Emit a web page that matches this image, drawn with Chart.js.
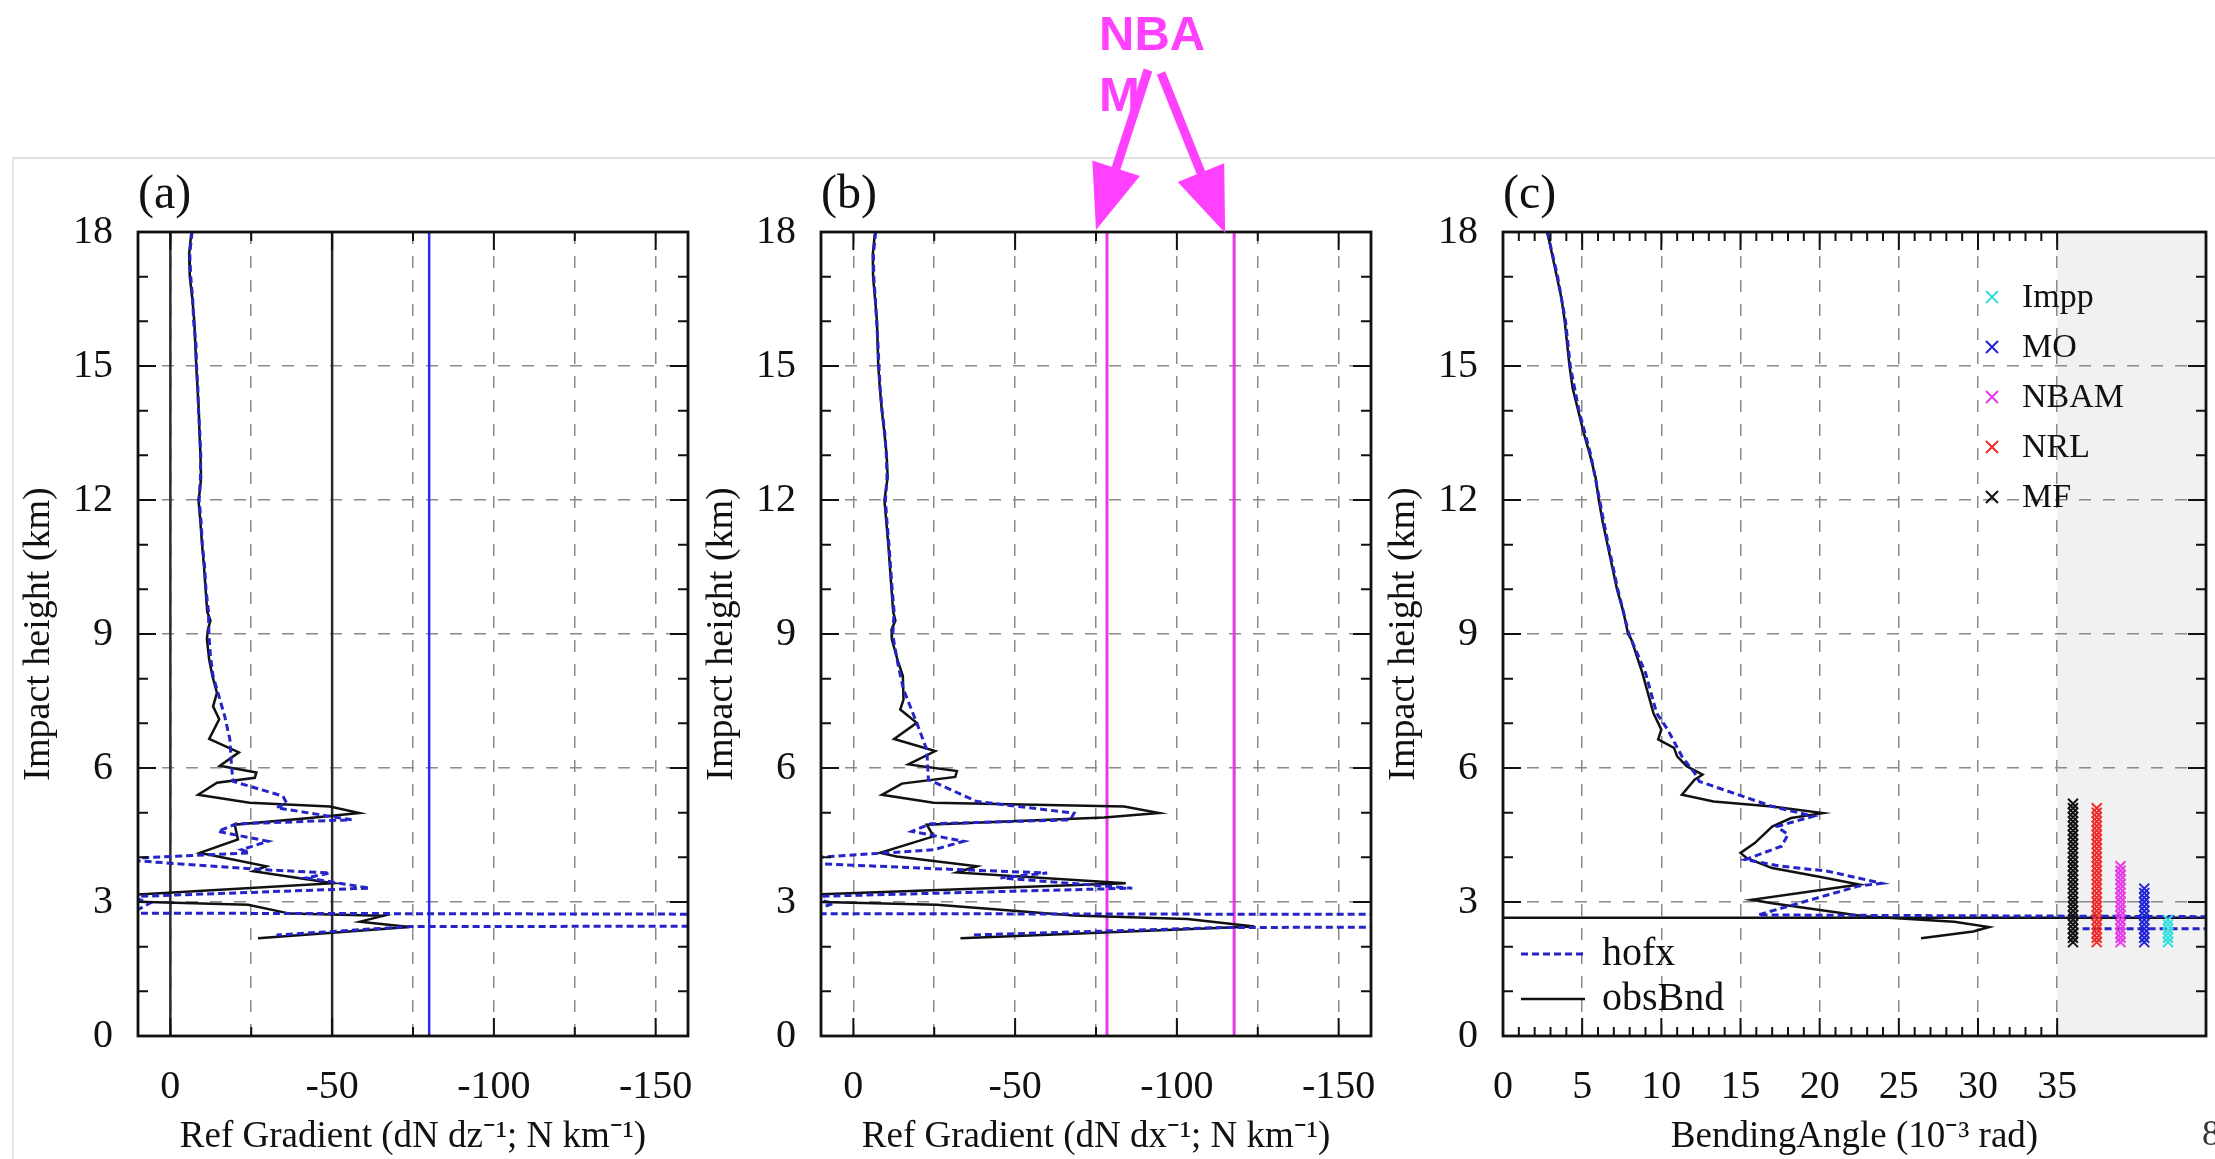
<!DOCTYPE html>
<html>
<head>
<meta charset="utf-8">
<script src="https://cdn.jsdelivr.net/npm/chart.js@4.4.1/dist/chart.umd.min.js"></script>
<style>
  html, body { margin: 0; padding: 0; background: #fff; width: 2215px; height: 1159px; overflow: hidden; }
  canvas { position: absolute; top: 0; }
  #frameTop { position: absolute; left: 12px; top: 157px; width: 2203px; border-top: 2px solid #dedede; }
  #frameLeft { position: absolute; left: 12px; top: 157px; height: 1002px; border-left: 2px solid #e4e4e4; }
  #pageNo { position: absolute; left: 2202px; top: 1112px; font: 36px "Liberation Serif", serif; color: #333; }
</style>
</head>
<body>
<div id="frameTop"></div>
<div id="frameLeft"></div>
<canvas id="panelA" width="700" height="1159" style="left:0px"></canvas>
<canvas id="panelB" width="700" height="1159" style="left:683px"></canvas>
<canvas id="panelC" width="850" height="1159" style="left:1365px"></canvas>
<div id="pageNo">8</div>
<script>
// ---- axis ticks ----
const heightTicks = [0, 3, 6, 9, 12, 15, 18];
const gradGrid = [0, -25, -50, -75, -100, -125, -150];
const gradLabels = [0, -50, -100, -150];
const bendTicks = [0, 5, 10, 15, 20, 25, 30, 35];

// ---- panel (a): dN/dz, impact height (km) vs value ----
const aObsH = [18.0, 17.5, 17.0, 16.5, 16.0, 15.5, 15.0, 14.5, 14.0, 13.5, 13.0, 12.5, 12.2, 12.0, 11.5, 11.0, 10.5, 10.0, 9.5, 9.3, 9.1, 8.88,
  8.43, 8.06, 7.68, 7.38, 7.09, 6.65, 6.35, 6.05, 5.90, 5.78, 5.67, 5.40, 5.22, 5.14, 4.99, 4.88, 4.73, 4.40, 4.10, 4.04,
  3.80, 3.69, 3.42, 3.16, 3.01, 2.94, 2.74, 2.69, 2.56, 2.44, 2.19];
const aObsV = [-6.5, -5.8, -6.0, -6.8, -7.4, -7.7, -8.0, -8.4, -8.8, -9.0, -9.3, -9.5, -9.1, -8.7, -9.3, -9.8, -10.4, -10.9, -11.4, -12.4, -11.6, -11.3,
  -12.0, -13.0, -14.4, -13.2, -15.1, -12.0, -21.2, -15.3, -26.6, -26.1, -14.4, -8.6, -24.5, -49.3, -58.4, -43.1, -19.9, -20.9, -9.1, -13.2,
  -29.7, -25.6, -50.3, 12, 12, -24.0, -36.9, -65.8, -58.6, -74.0, -27.1];
const aHofxH = [18.0, 17.5, 17.0, 16.5, 16.0, 15.5, 15.0, 14.5, 14.0, 13.5, 13.0, 12.5, 12.0, 11.5, 11.0, 10.5, 10.0, 9.5, 9.0, 8.5,
  8.06, 7.76, 7.16, 6.64, 6.04, 5.70, 5.37, 5.22, 5.11, 4.84, 4.75, 4.58, 4.36, 4.17, 4.10, 3.98, 3.93,
  3.72, 3.65, 3.54, 3.31, 3.12, 2.97, 2.75, 2.71, 2.47, 2.45, 2.26];
const aHofxV = [-6.7, -6.0, -6.3, -6.9, -7.2, -7.9, -8.1, -8.5, -8.7, -9.1, -9.4, -9.3, -8.9, -9.5, -9.9, -10.6, -11.0, -11.8, -11.9, -12.4,
  -13.2, -14.4, -16.8, -18.4, -18.9, -19.4, -34.8, -35.9, -32.8, -56.0, -20.4, -14.7, -30.2, -22.0, -24.5, 12, 12,
  -29.7, -49.3, -42.1, -61.6, 12, 6.4, 12, -300, -300, -74.0, -32.8];
const aRefLines = [0, -50];
const aLimit = -80;

// ---- panel (b): dN/dx ----
const bObsH = [18.0, 17.5, 17.0, 16.5, 16.0, 15.5, 15.0, 14.5, 14.0, 13.5, 13.0, 12.5, 12.0, 11.5, 11.0, 10.5, 10.0, 9.5, 9.3, 9.1, 8.88,
  8.43, 8.06, 7.53, 7.31, 7.01, 6.65, 6.38, 6.08, 5.93, 5.80, 5.65, 5.40, 5.22, 5.14, 4.99, 4.89, 4.73, 4.47, 4.10, 4.02,
  3.80, 3.66, 3.42, 3.16, 3.01, 2.94, 2.70, 2.62, 2.45, 2.19];
const bObsV = [-6.7, -6.0, -6.1, -6.7, -7.3, -7.5, -7.7, -8.2, -8.8, -9.6, -10.3, -10.6, -9.6, -10.2, -10.8, -11.3, -11.8, -12.3, -13.0, -11.8, -11.9,
  -13.6, -15.3, -15.5, -14.5, -19.6, -12.6, -25.3, -17.0, -32.0, -31.5, -15.0, -8.8, -24.8, -83.7, -94.5, -77.5, -22.7, -24.8, -8.3, -13.4,
  -38.2, -32.0, -84.2, 15, 15, -25.8, -68.2, -103.3, -124.0, -33.1];
const bHofxH = [18.0, 17.5, 17.0, 16.5, 16.0, 15.5, 15.0, 14.5, 14.0, 13.5, 13.0, 12.5, 12.0, 11.5, 11.0, 10.5, 10.0, 9.5, 9.0, 8.88,
  8.28, 7.76, 7.01, 6.41, 5.74, 5.25, 4.99, 4.84, 4.75, 4.58, 4.36, 4.17, 3.98, 3.87,
  3.72, 3.65, 3.54, 3.31, 3.12, 2.97, 2.74, 2.71, 2.45, 2.43, 2.26];
const bHofxV = [-6.9, -6.2, -6.3, -6.8, -7.2, -7.6, -7.9, -8.3, -8.9, -9.7, -10.2, -10.4, -9.9, -10.4, -11.0, -11.5, -12.0, -12.6, -12.2, -12.4,
  -13.9, -15.5, -19.6, -22.7, -23.2, -38.2, -68.2, -67.1, -23.8, -18.1, -34.1, -24.8, 15, 15,
  -34.1, -59.9, -45.5, -86.2, 15, 6.2, 15, -300, -300, -115.0, -36.0];
const bLimits = [-78.4, -117.7];

// ---- panel (c): bending angle (1e-3 rad) ----
const cObsH = [18.0, 17.0, 16.5, 16.0, 15.0, 14.5, 14.0, 13.5, 13.0, 12.5, 12.0, 11.5, 11.0, 10.5, 10.0, 9.5, 9.0, 8.88,
  8.13, 7.23, 6.86, 6.64, 6.45, 6.26, 6.04, 5.85, 5.74, 5.40, 5.25, 5.14, 4.99, 4.88, 4.69, 4.32, 4.10, 3.98,
  3.76, 3.57, 3.39, 3.05, 2.97, 2.68, 2.56, 2.44, 2.34, 2.19];
const cObsV = [2.8, 3.4, 3.7, 3.9, 4.2, 4.4, 4.75, 5.1, 5.5, 5.85, 6.05, 6.3, 6.6, 6.9, 7.2, 7.6, 7.9, 8.1,
  8.8, 9.5, 10.0, 9.8, 10.8, 11.0, 11.6, 12.6, 12.1, 11.3, 13.3, 17.0, 20.2, 18.2, 17.0, 15.9, 15.0, 15.4,
  17.0, 19.9, 22.5, 15.7, 17.0, 22.8, 28.5, 30.7, 29.7, 26.4];
const cHofxH = [18.0, 17.0, 16.0, 15.0, 14.0, 13.0, 12.0, 11.0, 10.0, 9.0, 8.88, 8.13, 7.23, 6.86, 6.26, 5.89, 5.70,
  5.14, 4.92, 4.69, 4.51, 4.25, 3.95, 3.80, 3.69, 3.42, 3.36, 2.71, 2.65, 2.40, 2.40];
const cHofxV = [2.8, 3.45, 3.95, 4.25, 4.8, 5.55, 6.1, 6.65, 7.25, 7.95, 8.1, 9.0, 9.7, 10.4, 11.3, 12.1, 12.4,
  17.0, 19.6, 17.3, 18.0, 17.6, 15.3, 17.6, 20.5, 23.9, 22.5, 16.1, 60, 60, 36.3];
const cCutoff = 2.65;
const cShadeFrom = 35;
const centres = ['Impp', 'MO', 'NBAM', 'NRL', 'MF'];
const centreBend = [42.0, 40.5, 39.0, 37.5, 36.0];
const centreTop = [2.6, 3.3, 3.8, 5.1, 5.2];
const lowLevels = [2.1, 2.2, 2.3, 2.4, 2.5, 2.6, 2.7, 2.8, 2.9, 3.0, 3.1, 3.2, 3.3, 3.4, 3.5, 3.6,
  3.7, 3.8, 3.9, 4.0, 4.1, 4.2, 4.3, 4.4, 4.5, 4.6, 4.7, 4.8, 4.9, 5.0, 5.1, 5.2];

// ---- styles ----
const SERIF = '"Liberation Serif", "Times New Roman", serif';
const INK = '#111';
const GRID = '#8a8a8a';
const HOFX_BLUE = '#2424c8';
const centreColors = { Impp: '#35dede', MO: '#2323d6', NBAM: '#e63ae6', NRL: '#ef2a2a', MF: '#111' };

const pts = (hs, vs) => hs.map((h, i) => ({ x: vs[i], y: h }));
const vline = v => [{ x: v, y: 0 }, { x: v, y: 18 }];
const lineSet = (data, color, width, extra) => Object.assign({ data, showLine: true, borderColor: color, borderWidth: width, pointRadius: 0, tension: 0 }, extra);
const hideEdges = (lo, hi) => c => (c.tick && c.tick.value !== lo && c.tick.value !== hi) ? GRID : 'rgba(0,0,0,0)';

function heightAxis() {
  return {
    type: 'linear', min: 0, max: 18,
    afterBuildTicks: s => { s.ticks = heightTicks.map(v => ({ value: v })); },
    afterFit: s => { s.width = 138; s.paddingTop = 0; s.paddingBottom = 0; },
    grid: { color: hideEdges(0, 18), lineWidth: 1.5, drawTicks: false },
    border: { display: false, dash: [12, 12] },
    ticks: { font: { family: SERIF, size: 40 }, color: INK, padding: 25 },
    title: { display: true, text: 'Impact height (km)', font: { family: SERIF, size: 38 }, color: INK, padding: { top: 16, bottom: 0 } }
  };
}

function gradAxis(title) {
  return {
    type: 'linear', min: -160, max: 10, reverse: true,
    afterBuildTicks: s => { s.ticks = gradGrid.map(v => ({ value: v })); },
    afterFit: s => { s.height = 123; s.paddingLeft = 0; s.paddingRight = 0; },
    grid: { color: GRID, lineWidth: 1.5, drawTicks: false },
    border: { display: false, dash: [12, 12] },
    ticks: { font: { family: SERIF, size: 40 }, color: INK, padding: 27, autoSkip: false, maxRotation: 0,
      callback: v => gradLabels.includes(v) ? String(v) : '' },
    title: { display: true, text: title, font: { family: SERIF, size: 37 }, color: INK, padding: { top: 0, bottom: 0 } }
  };
}

// frame, inward ticks and panel letter
const framePlugin = {
  id: 'frame',
  afterDraw(chart, args, o) {
    const { ctx, chartArea: a, scales: { x, y } } = chart;
    ctx.save();
    ctx.strokeStyle = INK;
    ctx.lineWidth = 2;
    ctx.beginPath();
    for (let v = 0; v <= 18; v++) {
      const py = y.getPixelForValue(v);
      const len = v % 3 === 0 ? 18 : 10;
      ctx.moveTo(a.left, py); ctx.lineTo(a.left + len, py);
      ctx.moveTo(a.right, py); ctx.lineTo(a.right - len, py);
    }
    for (let v = o.from; v <= o.to; v += o.step) {
      const px = x.getPixelForValue(v);
      const len = o.major.includes(v) ? 18 : 9;
      ctx.moveTo(px, a.top); ctx.lineTo(px, a.top + len);
      ctx.moveTo(px, a.bottom); ctx.lineTo(px, a.bottom - len);
    }
    ctx.stroke();
    ctx.lineWidth = 2.8;
    ctx.strokeRect(a.left, a.top, a.width, a.height);
    ctx.fillStyle = INK;
    ctx.font = `48px ${SERIF}`;
    ctx.textBaseline = 'alphabetic';
    ctx.fillText(o.letter, a.left, a.top - 24);
    ctx.restore();
  }
};

function arrow(ctx, x0, y0, x1, y1) {
  const dx = x1 - x0, dy = y1 - y0, L = Math.hypot(dx, dy);
  const ux = dx / L, uy = dy / L, head = 65, half = 25;
  const bx = x1 - ux * head, by = y1 - uy * head;
  ctx.lineWidth = 9;
  ctx.beginPath(); ctx.moveTo(x0, y0); ctx.lineTo(bx + ux * 4, by + uy * 4); ctx.stroke();
  ctx.beginPath();
  ctx.moveTo(x1, y1);
  ctx.lineTo(bx - uy * half, by + ux * half);
  ctx.lineTo(bx + uy * half, by - ux * half);
  ctx.closePath(); ctx.fill();
}

const nbamPlugin = {
  id: 'nbam',
  afterDraw(chart) {
    const { ctx, chartArea: a, scales: { x } } = chart;
    const p1 = x.getPixelForValue(bLimits[0]);
    const p2 = x.getPixelForValue(bLimits[1]);
    ctx.save();
    ctx.fillStyle = '#ff40ff';
    ctx.strokeStyle = '#ff40ff';
    ctx.font = 'bold 49px "Liberation Sans", Arial, sans-serif';
    ctx.textBaseline = 'alphabetic';
    const tx = p1 - 8;
    ctx.fillText('NBA', tx, 50);
    ctx.fillText('M', tx, 111);
    arrow(ctx, tx + 49, 70, p1 - 11, a.top - 2);
    arrow(ctx, tx + 62, 73, p2 - 9, a.top + 1);
    ctx.restore();
  }
};

const shadePlugin = {
  id: 'shade',
  beforeDraw(chart) {
    const { ctx, chartArea: a, scales: { x } } = chart;
    const px = x.getPixelForValue(cShadeFrom);
    ctx.save();
    ctx.fillStyle = '#f1f1f1';
    ctx.fillRect(px, a.top, a.right - px, a.height);
    ctx.restore();
  }
};

const legendPlugin = {
  id: 'legendC',
  afterDatasetsDraw(chart) {
    const { ctx, chartArea: a } = chart;
    ctx.save();
    ctx.textBaseline = 'middle';
    // centre markers legend (top right)
    ctx.font = `34px ${SERIF}`;
    centres.forEach((name, i) => {
      const cx = a.left + 489, cy = a.top + 65 + i * 50, r = 6;
      ctx.strokeStyle = centreColors[name];
      ctx.lineWidth = 2;
      ctx.beginPath();
      ctx.moveTo(cx - r, cy - r); ctx.lineTo(cx + r, cy + r);
      ctx.moveTo(cx + r, cy - r); ctx.lineTo(cx - r, cy + r);
      ctx.stroke();
      ctx.fillStyle = INK;
      ctx.fillText(name, cx + 30, cy + 1);
    });
    // line legend (bottom left)
    ctx.font = `40px ${SERIF}`;
    const rows = [['hofx', HOFX_BLUE, [7, 4], 3], ['obsBnd', INK, [], 2.5]];
    rows.forEach(([name, color, dash, w], i) => {
      const cy = a.top + 722 + i * 45;
      ctx.strokeStyle = color; ctx.lineWidth = w; ctx.setLineDash(dash);
      ctx.beginPath(); ctx.moveTo(a.left + 18, cy); ctx.lineTo(a.left + 82, cy); ctx.stroke();
      ctx.setLineDash([]);
      ctx.fillStyle = INK;
      ctx.fillText(name, a.left + 99, cy);
    });
    ctx.restore();
  }
};

const common = {
  responsive: false,
  animation: false,
  events: []
};

// panel (a)
new Chart(document.getElementById('panelA'), {
  type: 'scatter',
  data: {
    datasets: [
      lineSet(pts(aHofxH, aHofxV), HOFX_BLUE, 3, { borderDash: [7, 4], order: 0 }),
      lineSet(pts(aObsH, aObsV), INK, 2.5, { order: 1 }),
      lineSet(vline(aLimit), '#2a2af0', 2.5, { order: 2 }),
      ...aRefLines.map(v => lineSet(vline(v), '#2a2a2a', 2.5, { order: 3 }))
    ]
  },
  options: Object.assign({}, common, {
    layout: { padding: { top: 232, right: 12, bottom: 0, left: 0 } },
    scales: { x: gradAxis('Ref Gradient (dN dz\u207B\u00B9; N km\u207B\u00B9)'), y: heightAxis() },
    plugins: { legend: { display: false }, tooltip: { enabled: false },
      frame: { letter: '(a)', from: -150, to: 0, step: 25, major: gradLabels } }
  }),
  plugins: [framePlugin]
});

// panel (b)
new Chart(document.getElementById('panelB'), {
  type: 'scatter',
  data: {
    datasets: [
      lineSet(pts(bHofxH, bHofxV), HOFX_BLUE, 3, { borderDash: [7, 4], order: 0 }),
      lineSet(pts(bObsH, bObsV), INK, 2.5, { order: 1 }),
      ...bLimits.map(v => lineSet(vline(v), '#e63ae6', 3, { order: 2 }))
    ]
  },
  options: Object.assign({}, common, {
    layout: { padding: { top: 232, right: 12, bottom: 0, left: 0 } },
    scales: { x: gradAxis('Ref Gradient (dN dx\u207B\u00B9; N km\u207B\u00B9)'), y: heightAxis() },
    plugins: { legend: { display: false }, tooltip: { enabled: false },
      frame: { letter: '(b)', from: -150, to: 0, step: 25, major: gradLabels } }
  }),
  plugins: [framePlugin, nbamPlugin]
});

// panel (c)
const centreSets = centres.map((name, i) => ({
  data: lowLevels.filter(h => h <= centreTop[i]).map(h => ({ x: centreBend[i], y: h })),
  showLine: false, pointStyle: 'crossRot', pointRadius: 7, borderWidth: 2,
  borderColor: centreColors[name], backgroundColor: centreColors[name], order: 0
}));

new Chart(document.getElementById('panelC'), {
  type: 'scatter',
  data: {
    datasets: [
      ...centreSets,
      lineSet(pts(cHofxH, cHofxV), HOFX_BLUE, 3, { borderDash: [7, 4], order: 1 }),
      lineSet(pts(cObsH, cObsV), INK, 2.5, { order: 2 }),
      lineSet([{ x: 0, y: cCutoff }, { x: 60, y: cCutoff }], INK, 2.5, { order: 3 })
    ]
  },
  options: Object.assign({}, common, {
    layout: { padding: { top: 232, right: 7, bottom: 0, left: 0 } },
    scales: {
      x: {
        type: 'linear', min: 0, max: 44.4,
        afterBuildTicks: s => { s.ticks = bendTicks.map(v => ({ value: v })); },
        afterFit: s => { s.height = 123; s.paddingLeft = 0; s.paddingRight = 0; },
        grid: { color: c => (c.tick && c.tick.value !== 0) ? GRID : 'rgba(0,0,0,0)', lineWidth: 1.5, drawTicks: false },
        border: { display: false, dash: [12, 12] },
        ticks: { font: { family: SERIF, size: 40 }, color: INK, padding: 27, autoSkip: false, maxRotation: 0, callback: v => String(v) },
        title: { display: true, text: 'BendingAngle (10\u207B\u00B3 rad)', font: { family: SERIF, size: 37 }, color: INK, padding: { top: 0, bottom: 0 } }
      },
      y: heightAxis()
    },
    plugins: { legend: { display: false }, tooltip: { enabled: false },
      frame: { letter: '(c)', from: 0, to: 35, step: 1, major: bendTicks } }
  }),
  plugins: [shadePlugin, framePlugin, legendPlugin]
});
</script>
</body>
</html>
